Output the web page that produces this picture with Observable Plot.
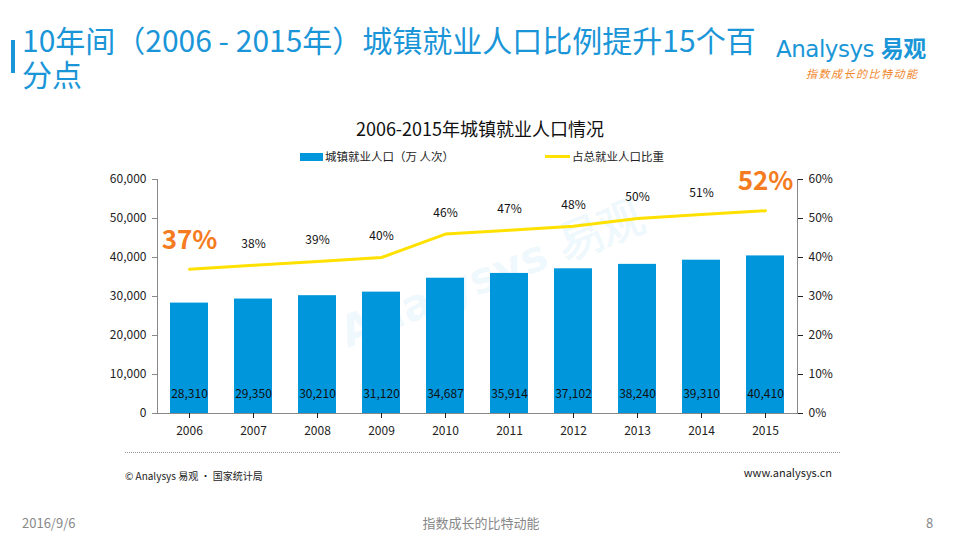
<!DOCTYPE html>
<html><head><meta charset="utf-8">
<script src="https://cdn.jsdelivr.net/npm/d3@7"></script>
<script src="https://cdn.jsdelivr.net/npm/@observablehq/plot@0.6"></script>
<style>
html,body{margin:0;padding:0;background:#fff;}
body{width:960px;height:540px;position:relative;overflow:hidden;font-family:"Noto Sans CJK SC","Noto Sans",sans-serif;}
.abs{position:absolute;white-space:nowrap;}
#chart{position:absolute;left:0;top:0;}
</style></head>
<body>
<div class="abs" style="left:11px;top:40px;width:4px;height:33px;background:#1a96d8;"></div>
<div class="abs" style="left:22px;top:23px;font-size:30px;line-height:33px;color:#1a96d8;">10年间（2006 - 2015年）城镇就业人口比例提升15个百</div>
<div class="abs" style="left:22px;top:57px;font-size:30px;line-height:33px;color:#1a96d8;">分点</div>
<div class="abs" style="left:776px;top:30px;font-size:23px;color:#1a96d8;font-family:'DejaVu Sans',sans-serif;letter-spacing:-0.5px;">Analysys <b style="font-family:'Noto Sans CJK SC';">易观</b></div>
<div class="abs" style="left:806px;top:65px;font-size:11px;color:#f0862a;letter-spacing:1.5px;font-style:italic;">指数成长的比特动能</div>
<div class="abs" style="left:0;width:960px;top:115px;text-align:center;font-size:18px;color:#111;">2006-2015年城镇就业人口情况</div>
<div class="abs" style="left:300px;top:153px;width:23px;height:8px;background:#0096dc;"></div>
<div class="abs" style="left:325px;top:148px;font-size:11.5px;color:#222;">城镇就业人口（万 人次）</div>
<div class="abs" style="left:545px;top:155px;width:25px;height:3px;background:#ffe100;"></div>
<div class="abs" style="left:572px;top:148px;font-size:11.5px;color:#222;">占总就业人口比重</div>
<div class="abs" style="left:330px;top:245px;font-size:44px;color:rgba(0,150,220,0.07);transform:rotate(-22deg);font-family:'DejaVu Sans',sans-serif;font-weight:bold;">Analysys 易观</div>
<div id="chart"></div>
<div class="abs" style="left:125px;top:452px;width:715px;border-top:1px dotted #999;"></div>
<div class="abs" style="left:125px;top:468px;font-size:10px;color:#222;">© Analysys 易观 · 国家统计局</div>
<div class="abs" style="left:700px;width:132px;top:464px;font-size:11px;color:#222;text-align:right;">www.analysys.cn</div>
<div class="abs" style="left:22px;top:513px;font-size:13px;color:#888;">2016/9/6</div>
<div class="abs" style="left:0;width:962px;top:513px;font-size:13px;color:#888;text-align:center;">指数成长的比特动能</div>
<div class="abs" style="left:926px;top:513px;font-size:13px;color:#888;">8</div>
<script>
const years = ["2006","2007","2008","2009","2010","2011","2012","2013","2014","2015"];
const population = [28310,29350,30210,31120,34687,35914,37102,38240,39310,40410];
const share = [37,38,39,40,46,47,48,50,51,52];
const leftTicks = [0,10000,20000,30000,40000,50000,60000];
const rightTickLabels = ["0%","10%","20%","30%","40%","50%","60%"];

const data = years.map((y,i)=>({year:y,pop:population[i],pct:share[i]}));
const PCT = 1000; // 1% = 1000 on the shared y scale (60% ↔ 60,000)
const mid = data.slice(1,-1);
const ends = [data[0], data[data.length-1]];

const chart = Plot.plot({
  width:960, height:540,
  marginLeft:157, marginRight:163, marginTop:179, marginBottom:127,
  style:{fontFamily:"'Noto Sans CJK SC','Noto Sans',sans-serif", fontSize:"12px", color:"#222", background:"transparent"},
  x:{type:"band", domain:years, paddingInner:0.41, paddingOuter:0.187, label:null},
  y:{domain:[0,60000], label:null},
  marks:[
    Plot.barY(data,{x:"year", y:"pop", fill:"#0096dc"}),
    Plot.frame({anchor:"left", stroke:"#888"}),
    Plot.frame({anchor:"right", stroke:"#888"}),
    Plot.ruleY([0],{stroke:"#888"}),
    Plot.axisY({anchor:"left", ticks:leftTicks, tickFormat:d3.format(","), tickSize:5, tickPadding:6, stroke:"#888", fontSize:12, label:null}),
    Plot.axisY({anchor:"right", ticks:leftTicks, tickFormat:(d,i)=>rightTickLabels[leftTicks.indexOf(d)], tickSize:5, tickPadding:6, fontSize:12, label:null}),
    Plot.axisX({tickSize:5, tickPadding:8, fontSize:12, label:null}),
    Plot.text(data,{x:"year", text:d=>d3.format(",")(d.pop), frameAnchor:"bottom", dy:-16, fontSize:12, fill:"#111"}),
    Plot.lineY(data,{x:"year", y:d=>d.pct*PCT, stroke:"#ffe100", strokeWidth:3}),
    Plot.text(mid,{x:"year", y:d=>d.pct*PCT, text:d=>d.pct+"%", dy:-21, fontSize:12, fill:"#111"}),
    Plot.text(ends,{x:"year", y:d=>d.pct*PCT, text:d=>d.pct+"%", dy:-29, fontSize:26, fontWeight:"bold", fill:"#f47b20"})
  ]
});
document.getElementById("chart").appendChild(chart);
</script>
</body></html>
